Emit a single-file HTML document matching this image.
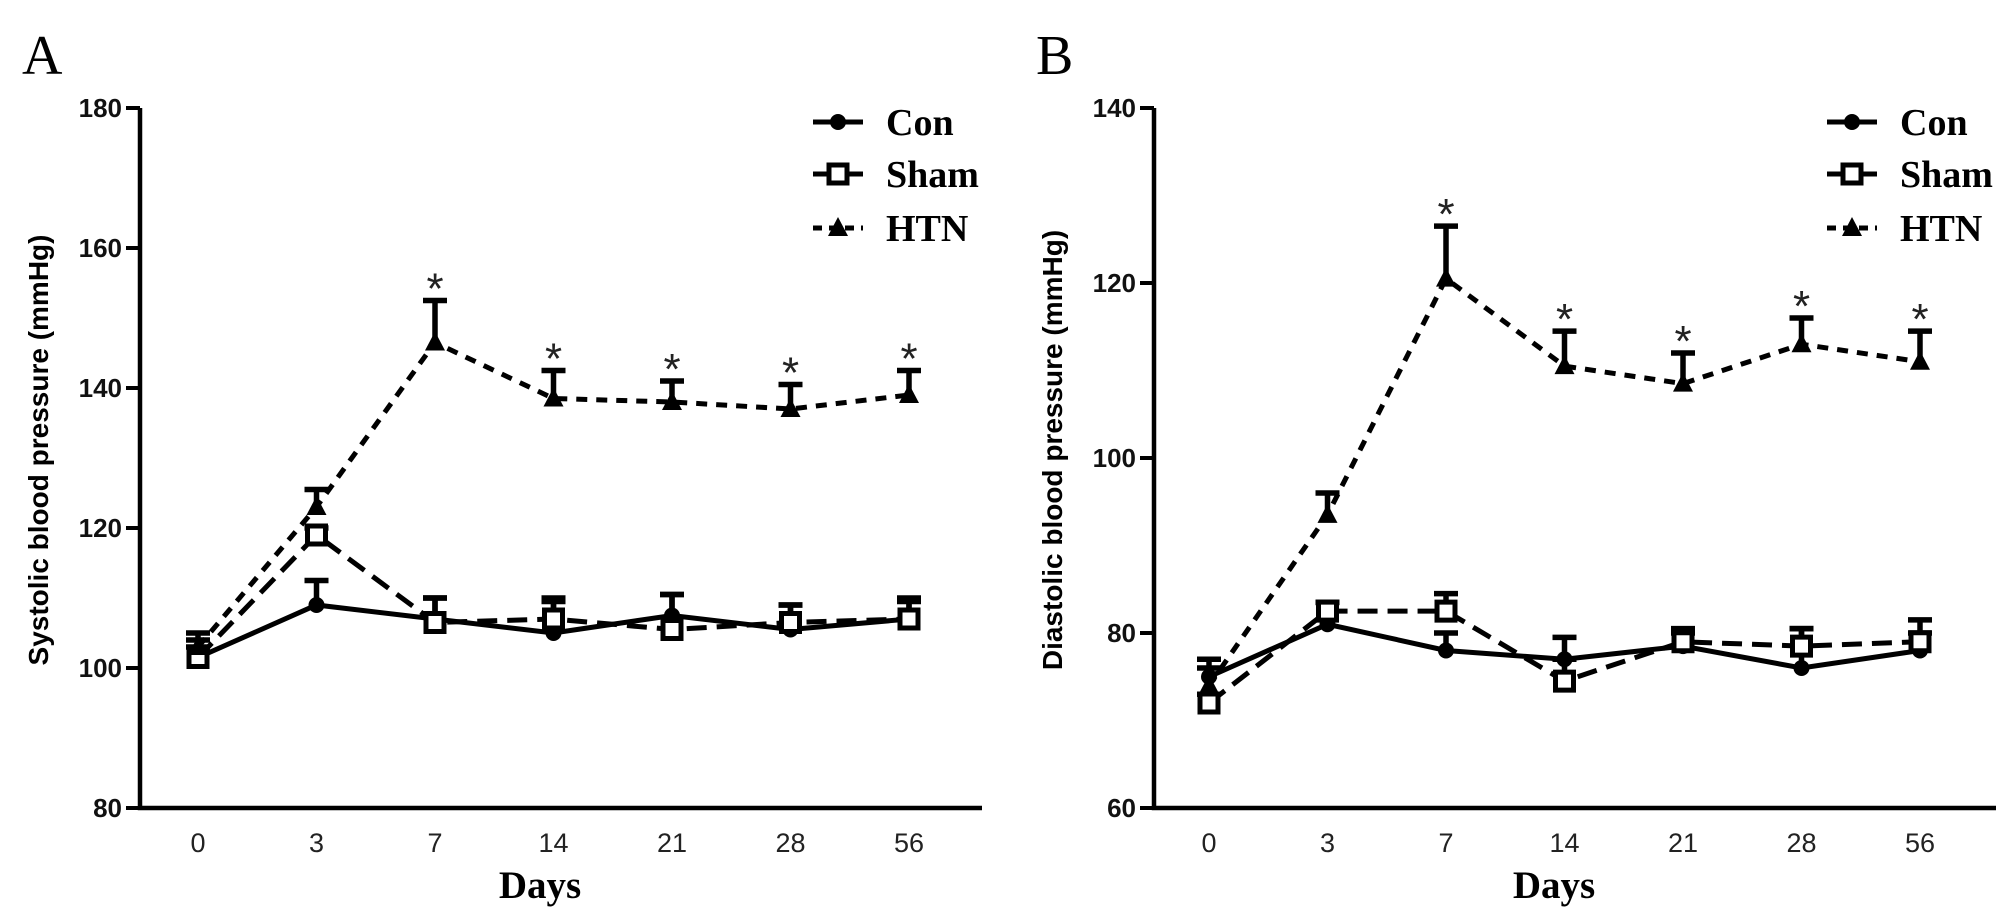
<!DOCTYPE html>
<html><head><meta charset="utf-8"><style>
html,body{margin:0;padding:0;background:#fff;}
svg{display:block;}
</style></head><body>
<svg id="chart" width="2008" height="910" viewBox="0 0 2008 910" xmlns="http://www.w3.org/2000/svg"></svg>
<script>
const days = ["0","3","7","14","21","28","56"];
const seriesNames = ["Con","Sham","HTN"];
// Panel A systolic
const aTicks = [80,100,120,140,160,180];
const aCon = [101.5,109,107,105,107.5,105.5,107];
const aConErr = [103,112.5,110,109.5,110.5,109,109.5];
const aSham = [101.5,119,106.5,107,105.5,106.5,107];
const aShamErr = [104,120,110,110,110.5,109,110];
const aHtn = [103,123,146.5,138.5,138,137,139];
const aHtnErr = [105,125.5,152.5,142.5,141,140.5,142.5];
const aStars = [false,false,true,true,true,true,true];
// Panel B diastolic
const bTicks = [60,80,100,120,140];
const bCon = [75,81,78,77,78.5,76,78];
const bConErr = [77,83.5,80,79.5,80,80.5,80];
const bSham = [72,82.5,82.5,74.5,79,78.5,79];
const bShamErr = [73,83.5,84.5,77,80.5,80.5,81.5];
const bHtn = [74,93.5,120.5,110.5,108.5,113,111];
const bHtnErr = [76,96,126.5,114.5,112,116,114.5];
const bStars = [false,false,true,true,true,true,true];

const NS="http://www.w3.org/2000/svg";
const svg=document.getElementById('chart');
function mk(tag,attrs,parent){const e=document.createElementNS(NS,tag);for(const k in attrs)e.setAttribute(k,attrs[k]);(parent||svg).appendChild(e);return e;}

function panel(o){
  const g=mk('g',{});
  
  
  const yMin=o.ticks[0],yMax=o.ticks[o.ticks.length-1];
  const top=108,bot=808;
  const y=v=>bot-(v-yMin)/(yMax-yMin)*(bot-top);
  const x=i=>o.x0+i*118.5;
  const L=mk('text',{x:o.ax-118,y:74,'font-family':'Liberation Serif, serif','font-size':56},g);L.textContent=o.letter;
  
  
  const ax=mk('path',{d:`M${o.ax} ${top} V${bot} H${o.ax+842}`,stroke:'#000','stroke-width':4.5,fill:'none'},g);
  
  
  o.ticks.forEach(t=>{
    mk('line',{x1:o.ax-14,x2:o.ax,y1:y(t),y2:y(t),stroke:'#000','stroke-width':4},g);
    const tl=mk('text',{x:o.ax-18,y:y(t)+9,'text-anchor':'end','font-family':'Liberation Sans, sans-serif','font-size':26,'font-weight':'bold',fill:'#111'},g);tl.textContent=t;
    
    
  });
  days.forEach((d,i)=>{
    const tl=mk('text',{x:x(i),y:852,'text-anchor':'middle','font-family':'Liberation Sans, sans-serif','font-size':27,fill:'#222'},g);tl.textContent=d;
    
    
  });
  const xt=mk('text',{x:o.ax+400,y:898,'text-anchor':'middle','font-family':'Liberation Serif, serif','font-size':39,'font-weight':'bold'},g);xt.textContent='Days';
  
  
  const yt=mk('text',{x:0,y:0,transform:`translate(${o.ax-92},450) rotate(-90)`,'text-anchor':'middle','font-family':'Liberation Sans, sans-serif','font-size':28,'font-weight':'bold'},g);yt.textContent=o.ytitle;
  
  
  const styles=[{dash:'none'},{dash:'20 10'},{dash:'11 9'}];
  const data=[[o.con,o.conErr],[o.sham,o.shamErr],[o.htn,o.htnErr]];
  data.forEach((s,k)=>{s[0].forEach((v,i)=>{
    const e=mk('path',{d:`M${x(i)} ${y(v)} V${y(s[1][i])} M${x(i)-12} ${y(s[1][i])} H${x(i)+12}`,stroke:'#000','stroke-width':5.5,fill:'none'},g);
    
    
  });});
  data.forEach((s,k)=>{
    const p=mk('polyline',{points:s[0].map((v,i)=>x(i)+','+y(v)).join(' '),fill:'none',stroke:'#000','stroke-width':5,'stroke-dasharray':styles[k].dash},g);
    
    
  });
  data.forEach((s,k)=>{s[0].forEach((v,i)=>{
    const m=marker(k,x(i),y(v),g);
    
    
  });});
  o.stars.forEach((st,i)=>{ if(!st) return;
    const t=mk('text',{x:x(i),y:y(o.htnErr[i])+3,'text-anchor':'middle','font-family':'Liberation Sans, sans-serif','font-size':44,fill:'#222'},g);t.textContent='*';
    
    
  });
  const lx=o.ax+673, ys=[122,174,228];
  seriesNames.forEach((n,k)=>{
    const lg=mk('g',{},g);
    
    
    mk('line',{x1:lx,x2:lx+50,y1:ys[k],y2:ys[k],stroke:'#000','stroke-width':5,'stroke-dasharray':k==2?'9 7':'none'},lg);
    marker(k,lx+25,ys[k],lg);
    const t=mk('text',{x:lx+73,y:ys[k]+13,'font-family':'Liberation Serif, serif','font-size':38,'font-weight':'bold'},lg);t.textContent=n;
  });
}
function marker(k,cx,cy,g){
  if(k==0) return mk('circle',{cx:cx,cy:cy,r:8,fill:'#000'},g);
  if(k==1) return mk('rect',{x:cx-9,y:cy-9,width:18,height:18,fill:'#fff',stroke:'#000','stroke-width':5},g);
  return mk('path',{d:`M${cx} ${cy-11} L${cx+10} ${cy+8} L${cx-10} ${cy+8} Z`,fill:'#000'},g);
}
panel({id:'systolic',letter:'A',ax:140,x0:198,ticks:aTicks,ytitle:'Systolic blood pressure (mmHg)',con:aCon,conErr:aConErr,sham:aSham,shamErr:aShamErr,htn:aHtn,htnErr:aHtnErr,stars:aStars});
panel({id:'diastolic',letter:'B',ax:1154,x0:1209,ticks:bTicks,ytitle:'Diastolic blood pressure (mmHg)',con:bCon,conErr:bConErr,sham:bSham,shamErr:bShamErr,htn:bHtn,htnErr:bHtnErr,stars:bStars});
</script>
</body></html>
